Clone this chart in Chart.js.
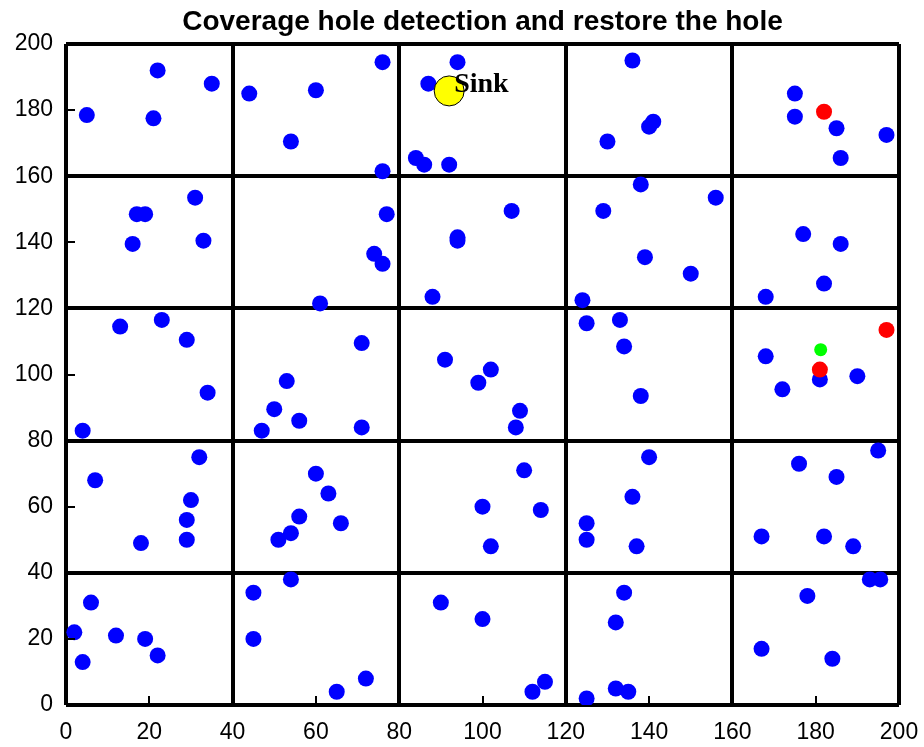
<!DOCTYPE html>
<html>
<head>
<meta charset="utf-8">
<script src="https://cdn.jsdelivr.net/npm/chart.js@4.4.1/dist/chart.umd.min.js"></script>
<style>
  html, body { margin: 0; padding: 0; background: #fff; overflow: hidden; }
  #wrap { width: 924px; height: 747px; }
</style>
</head>
<body>
<div id="wrap"><canvas id="holeChart"></canvas></div>
<script>
// sensor nodes [x, y]
const sensorNodes = [
  [5, 178.5], [22, 192], [21, 177.5], [35, 188],
  [44, 185], [60, 186], [54, 170.5], [76, 194.5], [76, 161.5],
  [94, 194.5], [87, 188], [84, 165.5], [86, 163.5], [92, 163.5],
  [136, 195], [130, 170.5], [140, 175], [141, 176.5],
  [175, 185], [175, 178], [185, 174.5], [197, 172.5], [186, 165.5],

  [31, 153.5], [17, 148.5], [19, 148.5], [16, 139.5], [33, 140.5],
  [77, 148.5], [74, 136.5], [76, 133.5], [61, 121.5],
  [107, 149.5], [94, 141.5], [94, 140.5], [88, 123.5],
  [138, 157.5], [129, 149.5], [156, 153.5], [139, 135.5], [150, 130.5], [124, 122.5],
  [177, 142.5], [186, 139.5], [182, 127.5], [168, 123.5],

  [13, 114.5], [23, 116.5], [29, 110.5], [34, 94.5], [4, 83],
  [71, 109.5], [53, 98], [50, 89.5], [56, 86], [47, 83], [71, 84],
  [91, 104.5], [102, 101.5], [99, 97.5], [109, 89], [108, 84],
  [125, 115.5], [133, 116.5], [134, 108.5], [138, 93.5],
  [168, 105.5], [181, 98.5], [190, 99.5], [172, 95.5],

  [32, 75], [7, 68], [30, 62], [29, 56], [29, 50], [18, 49],
  [60, 70], [63, 64], [56, 57], [66, 55], [54, 52], [51, 50],
  [110, 71], [100, 60], [114, 59], [102, 48],
  [140, 75], [136, 63], [125, 55], [125, 50], [137, 48],
  [195, 77], [176, 73], [185, 69], [167, 51], [182, 51], [189, 48],

  [6, 31], [2, 22], [4, 13], [12, 21], [19, 20], [22, 15],
  [45, 34], [54, 38], [45, 20], [65, 4], [72, 8],
  [90, 31], [100, 26], [112, 4], [115, 7],
  [134, 34], [132, 25], [125, 2], [132, 5], [135, 4],
  [193, 38], [195.5, 38], [178, 33], [167, 17], [184, 14]
];

// nodes on the hole boundary
const holeNodes = [[182, 179.5], [197, 113.5], [181, 101.5]];

// node moved in to restore the hole
const restoredNodes = [[181.2, 107.5]];

const sinkNode = [[92, 185.8]];
const sinkLabel = { text: 'Sink', x: 93.2, y: 185.5 };

const gridStep = 40;
const tickStep = 20;

const toXY = arr => arr.map(p => ({ x: p[0], y: p[1] }));

// short inner tick marks at the odd multiples of 20
const innerTicks = {
  id: 'innerTicks',
  afterDraw(chart) {
    const { ctx, chartArea, scales } = chart;
    ctx.save();
    ctx.strokeStyle = '#000';
    ctx.lineWidth = 2;
    ctx.beginPath();
    for (let v = tickStep; v < 200; v += tickStep) {
      if (v % gridStep === 0) continue;
      const px = Math.round(scales.x.getPixelForValue(v));
      const py = Math.round(scales.y.getPixelForValue(v));
      ctx.moveTo(px, chartArea.bottom);
      ctx.lineTo(px, chartArea.bottom - 9);
      ctx.moveTo(chartArea.left, py);
      ctx.lineTo(chartArea.left + 9, py);
    }
    ctx.stroke();
    ctx.restore();
  }
};

const sinkText = {
  id: 'sinkText',
  afterDatasetsDraw(chart) {
    const { ctx, scales } = chart;
    ctx.save();
    ctx.font = 'bold 28px "Liberation Serif", "Times New Roman", serif';
    ctx.fillStyle = '#000';
    ctx.textBaseline = 'alphabetic';
    ctx.fillText(sinkLabel.text, scales.x.getPixelForValue(sinkLabel.x), scales.y.getPixelForValue(sinkLabel.y));
    ctx.restore();
  }
};

const axisFont = { family: '"Liberation Sans", Arial, sans-serif', size: 23 };

new Chart(document.getElementById('holeChart'), {
  type: 'scatter',
  data: {
    datasets: [
      {
        label: 'Sink',
        data: toXY(sinkNode),
        backgroundColor: 'rgb(255,255,0)',
        borderColor: '#000',
        borderWidth: 1,
        pointRadius: 15,
        order: 0
      },
      {
        label: 'Restored',
        data: toXY(restoredNodes),
        backgroundColor: 'rgb(0,255,0)',
        borderWidth: 0,
        pointRadius: 6.5,
        order: 1
      },
      {
        label: 'Hole',
        data: toXY(holeNodes),
        backgroundColor: 'rgb(255,0,0)',
        borderWidth: 0,
        pointRadius: 8,
        order: 2
      },
      {
        label: 'Nodes',
        data: toXY(sensorNodes),
        backgroundColor: 'rgb(0,0,255)',
        borderWidth: 0,
        pointRadius: 8,
        order: 3
      }
    ]
  },
  options: {
    responsive: true,
    maintainAspectRatio: false,
    animation: false,
    events: [],
    layout: { padding: { left: 0, right: 25, top: 0, bottom: 0 } },
    plugins: {
      legend: { display: false },
      tooltip: { enabled: false },
      title: {
        display: true,
        fullSize: false,
        text: 'Coverage hole detection and restore the hole',
        color: '#000',
        font: { family: '"Liberation Sans", Arial, sans-serif', size: 28, weight: 'bold', lineHeight: 1.2 },
        padding: { top: 5, bottom: 5.4 }
      }
    },
    scales: {
      x: {
        type: 'linear',
        min: 0,
        max: 200,
        border: { display: false },
        grid: {
          color: '#000',
          lineWidth: c => (c.tick && c.tick.value % gridStep === 0 ? 4 : 0),
          drawTicks: false
        },
        ticks: { stepSize: tickStep, color: '#000', font: axisFont, padding: 14, maxRotation: 0 },
        afterFit: s => { s.height = 42; s.paddingLeft = 0; s.paddingRight = 0; }
      },
      y: {
        type: 'linear',
        min: 0,
        max: 200,
        border: { display: false },
        grid: {
          color: '#000',
          lineWidth: c => (c.tick && c.tick.value % gridStep === 0 ? 4 : 0),
          drawTicks: false
        },
        ticks: { stepSize: tickStep, color: '#000', font: axisFont, padding: 13 },
        afterFit: s => { s.width = 66; s.paddingTop = 0; s.paddingBottom = 0; }
      }
    }
  },
  plugins: [innerTicks, sinkText]
});
</script>
</body>
</html>
